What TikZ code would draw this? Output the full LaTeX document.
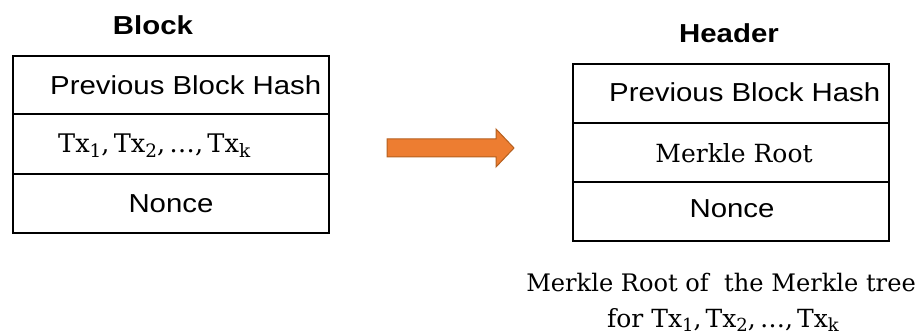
\documentclass[tikz,border=0pt]{standalone}
\usepackage{fontspec}
\newfontfamily\labelsans[FakeStretch=1.13]{Liberation Sans}
\newfontfamily\labelserif{DejaVu Serif}
\newcommand{\lowsub}[1]{\raisebox{-0.32ex}{\scalebox{0.72}{#1}}}
\newcommand{\txlist}{Tx\lowsub{1},\,Tx\lowsub{2},\,\ldots,\,Tx\lowsub{k}}
\begin{document}
\begin{tikzpicture}[x=1pt,y=1pt,
  field/.style={draw=black, line width=2pt, fill=white, inner sep=0pt,
    minimum width=316pt, anchor=north west},
  sanslabel/.style={inner sep=0pt, font=\labelsans\fontsize{26}{30}\selectfont},
  seriflabel/.style={inner sep=0pt, font=\labelserif\fontsize{25}{29}\selectfont},
  titlelabel/.style={inner sep=0pt, font=\labelsans\bfseries\fontsize{26}{30}\selectfont},
  bigarrow/.style={fill=arrowfill, draw=arrowedge, line width=1pt, line join=miter}]
\definecolor{arrowfill}{HTML}{ED7D31}
\definecolor{arrowedge}{HTML}{B5601F}
\useasboundingbox (0,0) rectangle (922,335);

% block with its three fields
\node[field, minimum height=58pt] (bprev) at (12,280) {};
\node[field, minimum height=60pt] (btx)   at (12,222) {};
\node[field, minimum height=59pt] (bnonce) at (12,162) {};
\node[titlelabel, anchor=base] (btitle) at (153,300) {Block};
\node[sanslabel, anchor=base west] (bprevt) at (50,240) {Previous Block Hash};
\node[seriflabel, anchor=base west, font=\labelserif\fontsize{25.6}{30}\selectfont] (btxt) at (58,182) {\txlist};
\node[sanslabel, anchor=base] (bnoncet) at (171,122) {Nonce};

% arrow between block and header
\draw[bigarrow] (387,178) coordinate (arrtail) -- (496,178) -- (496,168) -- (514,187) coordinate (arrtip)
  -- (496,206) -- (496,196) -- (387,196) -- cycle;

% header with its three fields
\node[field, minimum height=59pt] (hprev) at (572,272) {};
\node[field, minimum height=59pt] (hroot) at (572,213) {};
\node[field, minimum height=59pt] (hnonce) at (572,154) {};
\node[titlelabel, anchor=base] (htitle) at (729,292) {Header};
\node[sanslabel, anchor=base west] (hprevt) at (609,233) {Previous Block Hash};
\node[seriflabel, anchor=base] (hroott) at (734,172) {Merkle Root};
\node[sanslabel, anchor=base] (hnoncet) at (732,117) {Nonce};

% caption under the header
\node[seriflabel, anchor=base, font=\labelserif\fontsize{24.1}{28}\selectfont] (cap1) at (721,43) {Merkle Root of\ \ the Merkle tree};
\node[seriflabel, anchor=base] (cap2) at (723,8) {for \txlist};
\end{tikzpicture}
\end{document}
